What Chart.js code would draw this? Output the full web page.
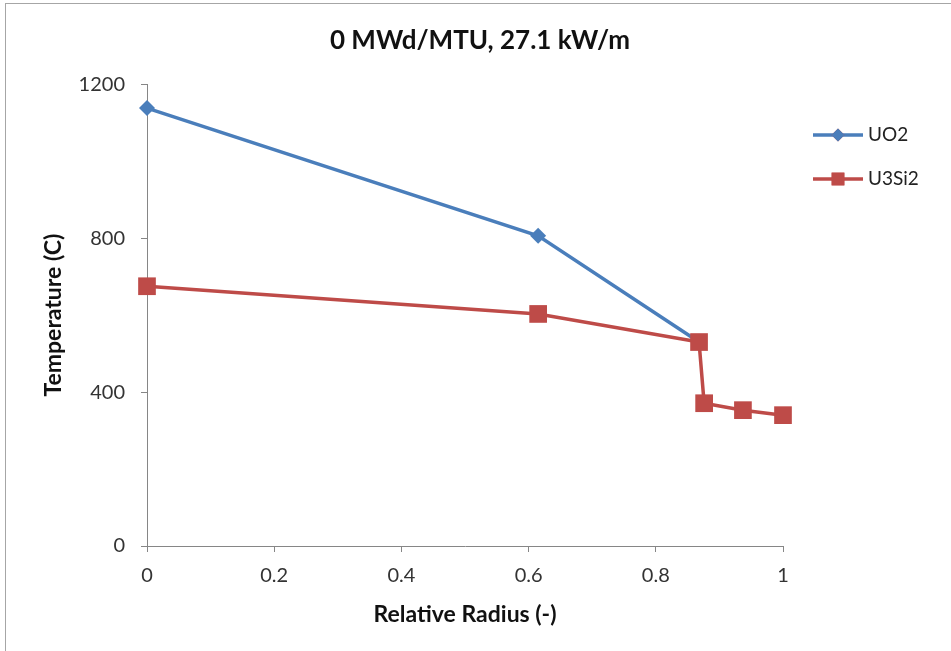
<!DOCTYPE html>
<html>
<head>
<meta charset="utf-8">
<script src="https://cdn.jsdelivr.net/npm/chart.js@4.4.0/dist/chart.umd.min.js"></script>
<style>
  html, body { margin: 0; padding: 0; background: #fff; }
  #wrap { position: absolute; left: 0; top: 0; width: 951px; height: 651px; }
  #frame { position: absolute; left: 5px; top: 3px; width: 960px; height: 660px;
           border-left: 1px solid #a6a6a6; border-top: 1px solid #a6a6a6; pointer-events: none; }
</style>
</head>
<body>
<div id="wrap">
  <canvas id="tempChart" width="951" height="651"></canvas>
  <div id="frame"></div>
</div>
<script>
const radiusUO2 = [0, 0.615, 0.868];
const tempUO2 = [1138, 806, 530];
const radiusU3Si2 = [0, 0.615, 0.868, 0.876, 0.937, 1.0];
const tempU3Si2 = [675, 603, 530, 371, 353, 340];
const xTicks = [0, 0.2, 0.4, 0.6, 0.8, 1];
const yTicks = [0, 400, 800, 1200];

const blue = '#4a7ebb';
const red = '#be4b48';
const fontFam = 'Lato, "Open Sans", sans-serif';

function toPoints(xs, ys) {
  return xs.map((x, i) => ({ x: x, y: ys[i] }));
}

// legend drawn like the excel one: short line with marker in the middle
const sideLegend = {
  id: 'sideLegend',
  afterDraw(chart) {
    const ctx = chart.ctx;
    const rows = [135, 179];
    chart.data.datasets.forEach((ds, i) => {
      const y = rows[i];
      ctx.save();
      ctx.strokeStyle = ds.borderColor;
      ctx.lineWidth = 3.5;
      ctx.beginPath();
      ctx.moveTo(813, y);
      ctx.lineTo(863, y);
      ctx.stroke();
      Chart.helpers.drawPoint(ctx, {
        pointStyle: ds.pointStyle,
        radius: ds.pointStyle === 'rect' ? 9 : 6.5,
        borderWidth: 0
      }, 838, y);
      ctx.fillStyle = ds.backgroundColor;
      ctx.fill();
      ctx.fillStyle = '#222';
      ctx.font = '19px ' + fontFam;
      ctx.textBaseline = 'middle';
      ctx.fillText(ds.label, 868, y);
      ctx.restore();
    });
  }
};

const axisTitleFont = { family: fontFam, size: 23, weight: 'bold', lineHeight: 1.2 };
const tickFont = { family: fontFam, size: 20 };

new Chart(document.getElementById('tempChart'), {
  type: 'scatter',
  data: {
    datasets: [
      {
        label: 'UO2',
        data: toPoints(radiusUO2, tempUO2),
        showLine: true,
        order: 1,
        clip: false,
        borderColor: blue,
        backgroundColor: blue,
        borderWidth: 3.5,
        pointStyle: 'rectRot',
        pointRadius: 8,
        pointHoverRadius: 8,
        pointBorderWidth: 0
      },
      {
        label: 'U3Si2',
        data: toPoints(radiusU3Si2, tempU3Si2),
        showLine: true,
        order: 0,
        clip: false,
        borderColor: red,
        backgroundColor: red,
        borderWidth: 3.5,
        pointStyle: 'rect',
        pointRadius: 12.5,
        pointHoverRadius: 12.5,
        pointBorderWidth: 0
      }
    ]
  },
  options: {
    responsive: false,
    animation: false,
    layout: { padding: { left: 9, right: 0, top: 0, bottom: 0 } },
    plugins: {
      legend: { display: false },
      tooltip: { enabled: false },
      title: {
        display: true,
        text: '0 MWd/MTU, 27.1 kW/m',
        color: '#111',
        font: { family: fontFam, size: 26, weight: 'bold', lineHeight: 1.2 },
        padding: { top: 25, bottom: 28 }
      }
    },
    scales: {
      x: {
        type: 'linear',
        min: 0,
        max: 1,
        afterBuildTicks(scale) { scale.ticks = xTicks.map(v => ({ value: v })); },
        afterFit(scale) { scale.height = 105; },
        ticks: {
          color: '#333',
          padding: 12,
          font: tickFont,
          callback: v => String(+v.toFixed(1))
        },
        grid: { drawOnChartArea: false, drawTicks: true, tickLength: 6, color: '#868686' },
        border: { color: '#868686', width: 1 },
        title: {
          display: true,
          text: 'Relative Radius (-)',
          color: '#111',
          font: axisTitleFont,
          padding: { top: 0, bottom: 23 }
        }
      },
      y: {
        min: 0,
        max: 1200,
        afterBuildTicks(scale) { scale.ticks = yTicks.map(v => ({ value: v })); },
        afterFit(scale) { scale.width = 138; },
        ticks: {
          color: '#333',
          padding: 16,
          font: tickFont,
          callback: v => String(v)
        },
        grid: { drawOnChartArea: false, drawTicks: true, tickLength: 6, color: '#868686' },
        border: { color: '#868686', width: 1 },
        title: {
          display: true,
          text: 'Temperature (C)',
          color: '#111',
          font: axisTitleFont,
          padding: { top: 31, bottom: 0 }
        }
      },
      // empty box on the right keeps room for the legend
      legendRoom: {
        position: 'right',
        display: true,
        afterFit(scale) { scale.width = 168; },
        ticks: { display: false },
        grid: { display: false },
        border: { display: false }
      }
    }
  },
  plugins: [sideLegend]
});
</script>
</body>
</html>
